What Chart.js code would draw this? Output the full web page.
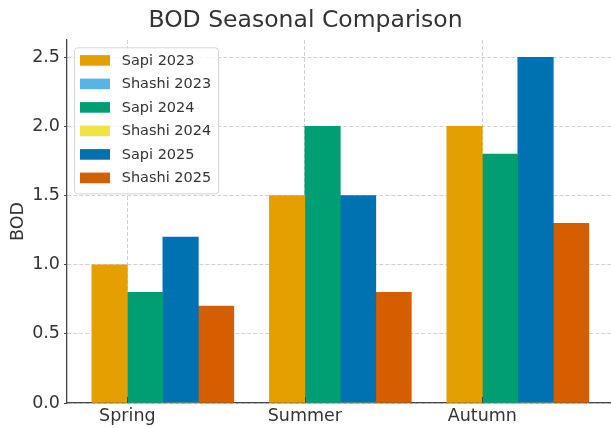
<!DOCTYPE html>
<html><head><meta charset="utf-8">
<script src="https://cdn.jsdelivr.net/npm/chart.js@4.4.0/dist/chart.umd.min.js"></script>
<style>html,body{margin:0;padding:0;background:#fff;overflow:hidden}#wrap{width:611px;height:428px;position:relative}</style>
</head><body><div id="wrap"><canvas id="c" width="611" height="428"></canvas></div>
<script>
// ---- data ----
const seasons = ['Spring', 'Summer', 'Autumn'];
const sapi2023 = [1.0, 1.5, 2.0];
const shashi2023 = [0, 0, 0];
const sapi2024 = [0.8, 2.0, 1.8];
const shashi2024 = [0, 0, 0];
const sapi2025 = [1.2, 1.5, 2.5];
const shashi2025 = [0.7, 0.8, 1.3];
const yTicks = [0.0, 0.5, 1.0, 1.5, 2.0, 2.5];

// ---- styling ----
const FONT = 'DejaVu Sans';
const TXT = '#333333';
const AXIS = '#444444';
const GRID = '#d0d0d0';
const BAR_W = 0.2; // bar width in category units

const seriesDefs = [
  { label: 'Sapi 2023',   values: sapi2023,   color: '#E69F00', kind: 'Sapi',   year: 0 },
  { label: 'Shashi 2023', values: shashi2023, color: '#56B4E9', kind: 'Shashi', year: 0 },
  { label: 'Sapi 2024',   values: sapi2024,   color: '#009E73', kind: 'Sapi',   year: 1 },
  { label: 'Shashi 2024', values: shashi2024, color: '#F0E442', kind: 'Shashi', year: 1 },
  { label: 'Sapi 2025',   values: sapi2025,   color: '#0072B2', kind: 'Sapi',   year: 2 },
  { label: 'Shashi 2025', values: shashi2025, color: '#D55E00', kind: 'Shashi', year: 2 }
];

const datasets = seriesDefs.map(s => {
  const slot = s.kind === 'Sapi' ? s.year - 0.5 : s.year + 0.5;
  return {
    label: s.label,
    data: seasons.map((_, i) => ({ x: i + slot * BAR_W, y: s.values[i] })),
    backgroundColor: s.color,
    borderWidth: 0,
    grouped: false,
    barPercentage: 1,
    categoryPercentage: 1
  };
});

// inward x tick marks (drawn above the bars, like the reference)
const xTickPlugin = {
  id: 'xTickMarks',
  afterDatasetsDraw(chart) {
    const ctx = chart.ctx, xs = chart.scales.x, a = chart.chartArea;
    ctx.save();
    ctx.strokeStyle = AXIS;
    ctx.lineWidth = 1;
    xs.ticks.forEach(t => {
      const px = Math.round(xs.getPixelForValue(t.value)) + 0.5;
      ctx.beginPath();
      ctx.moveTo(px, a.bottom);
      ctx.lineTo(px, a.bottom - 6);
      ctx.stroke();
    });
    ctx.restore();
  }
};

const legendPlugin = {
  id: 'mplLegend',
  afterDraw(chart) {
    const ctx = chart.ctx, a = chart.chartArea;
    const x0 = a.left + 7, y0 = a.top + 7.3, w = 144, h = 146, rowH = 23.5;
    ctx.save();
    ctx.beginPath();
    ctx.roundRect(x0 + 0.5, y0 + 0.5, w, h, 3);
    ctx.fillStyle = 'rgba(255,255,255,0.8)';
    ctx.fill();
    ctx.strokeStyle = '#d6d6d6';
    ctx.lineWidth = 1;
    ctx.stroke();
    ctx.font = '14.5px "' + FONT + '"';
    ctx.textBaseline = 'middle';
    ctx.textAlign = 'left';
    chart.data.datasets.forEach((ds, i) => {
      const cy = y0 + 13.1 + i * rowH;
      ctx.fillStyle = ds.backgroundColor;
      ctx.fillRect(x0 + 6, cy - 5.3, 30, 10.6);
      ctx.fillStyle = TXT;
      ctx.fillText(ds.label, x0 + 47.7, cy + 0.5);
    });
    ctx.restore();
  }
};

new Chart(document.getElementById('c'), {
  type: 'bar',
  data: { datasets },
  options: {
    responsive: false,
    animation: false,
    devicePixelRatio: 1,
    layout: { padding: { left: 0, right: 0, top: 0, bottom: 0 } },
    plugins: {
      legend: { display: false },
      tooltip: { enabled: false },
      title: {
        display: true,
        text: 'BOD Seasonal Comparison',
        color: TXT,
        font: { family: FONT, size: 23.5, weight: 'normal', lineHeight: 1.2 },
        padding: { top: 7, bottom: 4.8 }
      }
    },
    scales: {
      x: {
        type: 'linear',
        offset: false,
        min: -0.34,
        max: 2.725,
        afterBuildTicks: s => { s.ticks = seasons.map((_, i) => ({ value: i })); },
        afterFit: s => { s.height = 25; },
        ticks: {
          autoSkip: false, maxRotation: 0, padding: 3,
          color: TXT, font: { family: FONT, size: 17.5 },
          callback: v => seasons[Math.round(v)]
        },
        grid: { offset: false, color: GRID, lineWidth: 1, drawTicks: false, tickBorderDash: [] },
        border: { display: true, color: AXIS, width: 1.3, dash: [4, 2] }
      },
      y: {
        min: 0,
        max: 2.625,
        afterBuildTicks: s => { s.ticks = yTicks.map(v => ({ value: v })); },
        afterFit: s => { s.width = 67; },
        ticks: {
          padding: 4,
          color: TXT, font: { family: FONT, size: 17.5 },
          callback: v => Number(v).toFixed(1)
        },
        grid: { color: GRID, lineWidth: 1, drawTicks: true, tickLength: 3, tickColor: AXIS, tickWidth: 1, tickBorderDash: [] },
        border: { display: true, color: AXIS, width: 1.3, dash: [4, 2] },
        title: {
          display: true, text: 'BOD', color: TXT,
          font: { family: FONT, size: 17.5, lineHeight: 1.2 },
          padding: { top: 8, bottom: 0 }
        }
      }
    }
  },
  plugins: [xTickPlugin, legendPlugin]
});
</script>
</body></html>
